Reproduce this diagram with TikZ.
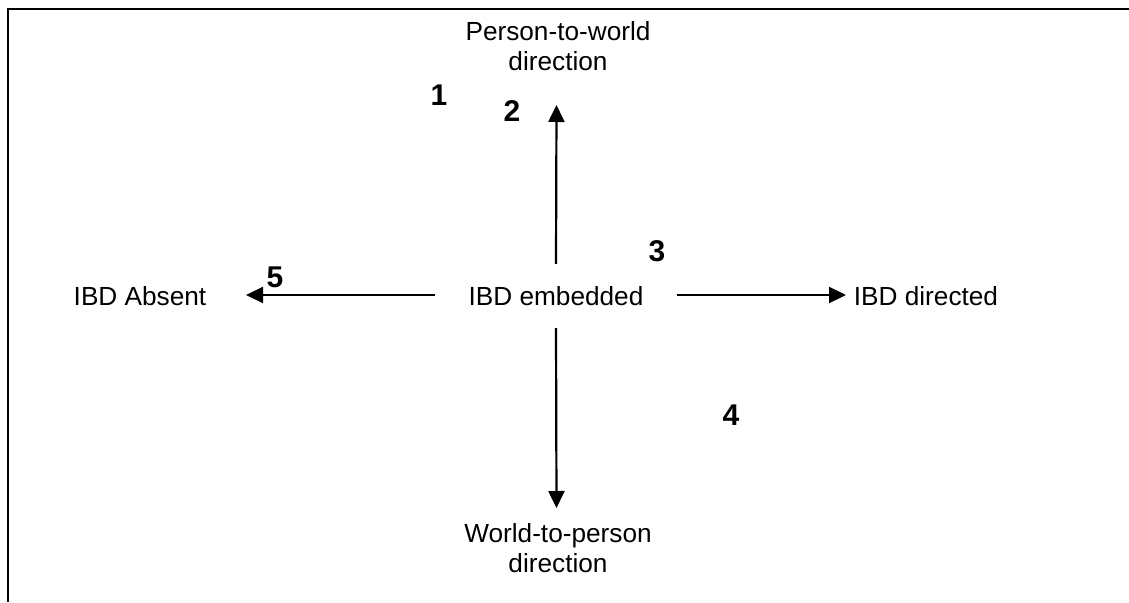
\documentclass[tikz,border=0pt]{standalone}
\usepackage{fontspec}
\setmainfont{Liberation Sans}
\usetikzlibrary{arrows.meta}
\tikzset{
  lbl/.style={inner sep=0pt, font=\fontsize{26.2}{29.5}\selectfont, align=center},
  num/.style={inner sep=0pt, font=\fontsize{30}{32}\selectfont\bfseries},
  arr/.style={line width=2.2pt, -{Triangle[length=17pt,width=16pt]}},
  frame/.style={line width=2.2pt}
}
\begin{document}
\begin{tikzpicture}[x=1pt,y=-1pt]
\useasboundingbox (0,0) rectangle (1129,602);
\draw[frame] (8,602) -- (8,9) -- (1129,9);
\node[lbl] (ptw) at (558,46) {Person-to-world\\direction};
\node[lbl] (wtp) at (558,548) {World-to-person\\direction};
\node[lbl] (abs) at (140,296) {IBD Absent};
\node[lbl] (dir) at (926,296) {IBD directed};
\node[lbl, inner xsep=33pt, minimum height=64pt] (emb) at (556,296) {IBD embedded};
\node[num] (n1) at (439,95) {1};
\node[num] (n2) at (512,111) {2};
\node[num] (n3) at (657,251) {3};
\node[num] (n4) at (731,415) {4};
\node[num] (n5) at (275,277) {5};
\coordinate (tipU) at (556.5,105);
\coordinate (tipD) at (556.5,508);
\coordinate (tipL) at (246,295);
\coordinate (tipR) at (846,295);
\draw[arr] (emb.north) -- (tipU);
\draw[arr] (emb.south) -- (tipD);
\draw[arr] (emb.west |- tipL) -- (tipL);
\draw[arr] (emb.east |- tipR) -- (tipR);
\end{tikzpicture}
\end{document}
